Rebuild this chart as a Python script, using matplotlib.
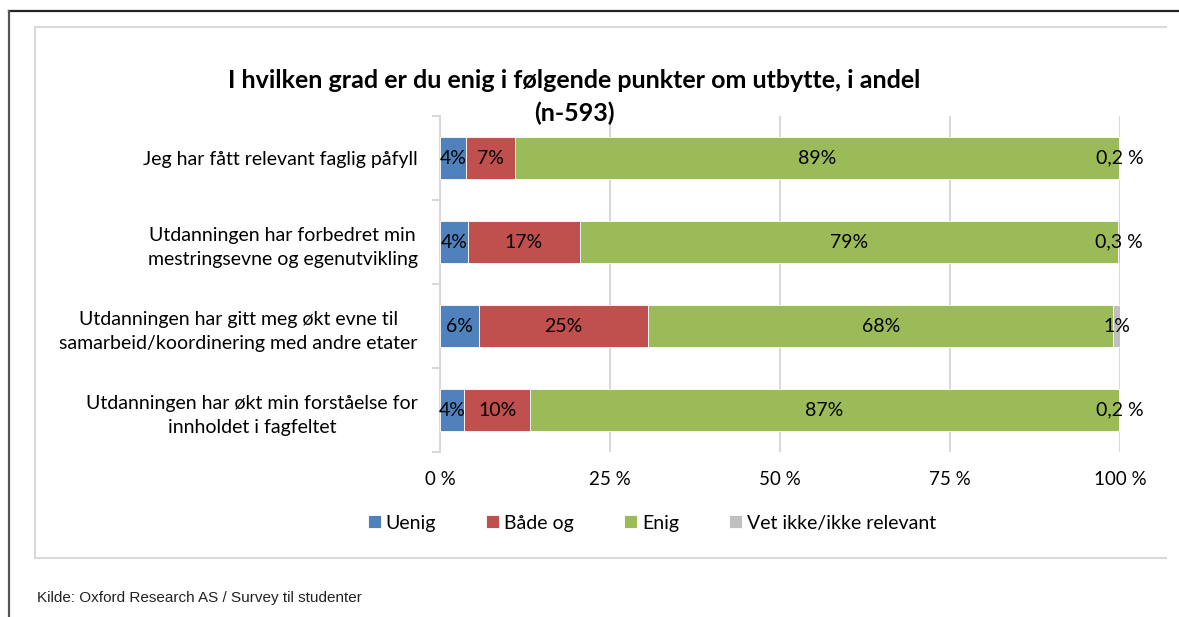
import numpy as np
import matplotlib
matplotlib.use('Agg')
import matplotlib.pyplot as plt
from matplotlib.lines import Line2D

### Datos ###############################################
categorias = ['Jeg har fått relevant faglig påfyll',
              'Utdanningen har forbedret min\nmestringsevne og egenutvikling',
              'Utdanningen har gitt meg økt evne til\nsamarbeid/koordinering med andre etater',
              'Utdanningen har økt min forståelse for\ninnholdet i fagfeltet']
serier = ['Uenig', 'Både og', 'Enig', 'Vet ikke/ikke relevant']
uenig = [3.8, 4.1, 5.7, 3.5]
begge = [7.3, 16.5, 24.9, 9.8]
enig = [88.7, 79.1, 68.4, 86.5]
vet_ikke = [0.2, 0.3, 1.0, 0.2]
etiketter_uenig = ['4%', '4%', '6%', '4%']
etiketter_begge = ['7%', '17%', '25%', '10%']
etiketter_enig = ['89%', '79%', '68%', '87%']
etiketter_vet = ['0,2 %', '0,3 %', '1%', '0,2 %']
xticks = [0, 25, 50, 75, 100]
xtick_labels = ['0 %', '25 %', '50 %', '75 %', '100 %']

farger = ['#4F81BD', '#C0504D', '#9BBB59', '#BFBFBF']
FONT = 'Lato'
plt.rcParams['font.family'] = [FONT, 'DejaVu Sans']

W, H = 1179, 617
fig = plt.figure(figsize=(W / 100, H / 100), dpi=100)

### Rammer ##############################################
fig.add_artist(Line2D([9 / W, 1], [1 - 11 / H, 1 - 11 / H], color='#222222', lw=1.6))
fig.add_artist(Line2D([9 / W, 9 / W], [0, 1 - 11 / H], color='#555555', lw=1.6))
grå = '#D9D9D9'
fig.add_artist(Line2D([35 / W, 1166 / W], [1 - 27 / H, 1 - 27 / H], color=grå, lw=1.5))
fig.add_artist(Line2D([35 / W, 1166 / W], [1 - 558 / H, 1 - 558 / H], color=grå, lw=1.5))
fig.add_artist(Line2D([35 / W, 35 / W], [1 - 558 / H, 1 - 27 / H], color=grå, lw=1.5))

### Akse ################################################
ax = fig.add_axes([440 / W, 1 - 452 / H, 680 / W, 336 / H])
y = np.arange(len(categorias))
venstre = np.zeros(len(categorias))
verdier = [uenig, begge, enig, vet_ikke]
etiketter = [etiketter_uenig, etiketter_begge, etiketter_enig, etiketter_vet]
for i, (vals, navn, farge) in enumerate(zip(verdier, serier, farger)):
    vals = np.array(vals)
    ax.barh(y, vals, left=venstre, height=0.5, color=farge, label=navn,
            edgecolor='white', linewidth=0.6, zorder=3)
    for yy, x0, v, t in zip(y, venstre, vals, etiketter[i]):
        ax.text(x0 + v / 2, yy, t, ha='center', va='center', fontsize=14,
                color='black', zorder=4)
    venstre = venstre + vals

ax.set_xlim(0, 100)
ax.set_ylim(len(categorias) - 0.5, -0.5)
ax.set_xticks(xticks)
ax.set_xticklabels(xtick_labels, fontsize=13.5)
ax.set_yticks(y)
ax.set_yticklabels(categorias, fontsize=14, linespacing=1.55)
for lbl in ax.get_yticklabels():
    lbl.set_multialignment('center')
ax.set_yticks(np.arange(-0.5, len(categorias)), minor=True)
ax.tick_params(axis='y', which='major', length=0, pad=16)
ax.tick_params(axis='y', which='minor', length=6, color=grå, width=1.5)
ax.tick_params(axis='x', length=0, pad=14)
ax.xaxis.grid(True, color=grå, lw=1.5, zorder=0)
for s in ['top', 'right', 'bottom']:
    ax.spines[s].set_visible(False)
ax.spines['left'].set_color(grå)
ax.spines['left'].set_linewidth(1.5)
ax.set_axisbelow(True)

### Tittel ##############################################
fig.text(574 / W, 1 - 80 / H, 'I hvilken grad er du enig i følgende punkter om utbytte, i andel',
         ha='center', va='center', fontsize=18, fontweight='bold')
fig.text(574 / W, 1 - 113 / H, '(n-593)', ha='center', va='center', fontsize=18, fontweight='bold')

### Legende #############################################
fig.legend(loc='center', bbox_to_anchor=(652 / W, 1 - 523 / H), ncol=4, frameon=False,
           fontsize=14, handlelength=0.65, handleheight=0.65, handletextpad=0.25,
           columnspacing=2.6)

fig.text(37 / W, 1 - 598 / H, 'Kilde: Oxford Research AS / Survey til studenter',
         ha='left', va='center', fontsize=11, family='Liberation Sans', color='#222222')

fig.savefig('out.png', dpi=100)
